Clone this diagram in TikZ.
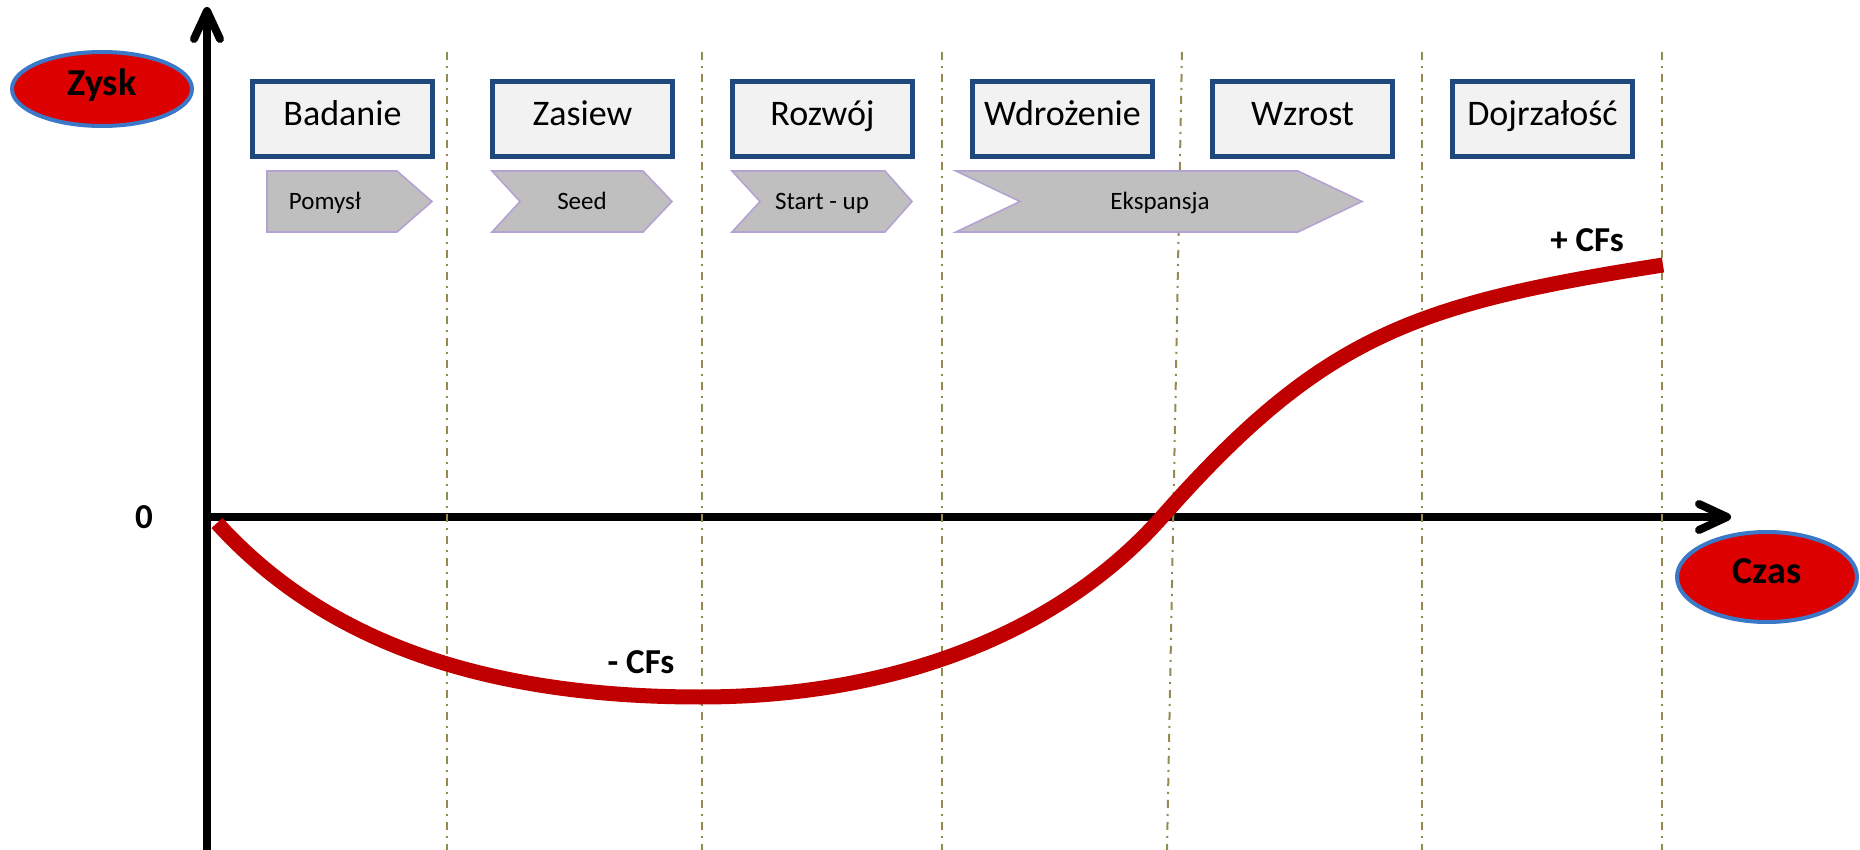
\documentclass[tikz,border=0pt]{standalone}
\usepackage{fontspec}
\setmainfont{Carlito}
\usetikzlibrary{arrows.meta,shapes.geometric}

\definecolor{ramka}{HTML}{1F497D}
\definecolor{tlo}{HTML}{F2F2F2}
\definecolor{szary}{HTML}{BFBFBF}
\definecolor{fiolet}{HTML}{B4A2D2}
\definecolor{oliwka}{HTML}{948A54}
\definecolor{czerwony}{HTML}{C00000}
\definecolor{jaskrawy}{HTML}{DD0000}
\definecolor{niebieski}{HTML}{3C78C8}

\tikzset{
  etap/.style={draw=ramka, line width=2.5pt, fill=tlo, minimum width=90pt,
    minimum height=37.5pt, inner sep=0pt, text height=0.64em, text depth=0pt,
    font=\fontsize{18}{20}\selectfont},
  faza/.style={draw=fiolet, line width=0.8pt, fill=szary},
  fazatekst/.style={anchor=base, inner sep=0pt, font=\fontsize{12.5}{14}\selectfont},
  owal/.style={ellipse, draw=niebieski, line width=2pt, fill=jaskrawy,
    minimum width=90pt, inner sep=0pt, text height=0.64em, text depth=0pt,
    font=\fontsize{19}{22}\bfseries},
  etykieta/.style={anchor=base, inner sep=0pt, font=\fontsize{17.5}{20}\bfseries},
  podzial/.style={draw=oliwka, line width=1pt, dash pattern=on 4pt off 3pt on 1pt off 3pt},
  os/.style={line width=4pt, -{Straight Barb[length=14pt, width=13pt, round]}},
  krzywa/.style={draw=czerwony, line width=7.5pt}
}

\begin{document}
\begin{tikzpicture}[x=0.5pt, y=-0.5pt]

\useasboundingbox (0,0) rectangle (1860,850);

% Axes
\coordinate (o) at (207,517);
\coordinate (ygora) at (207,7);
\coordinate (ydol) at (207,850);
\coordinate (xkoniec) at (1731,517);
\draw[os] (ydol) -- (ygora);
\draw[os] (o) -- (xkoniec);

% Lignes de separation des etapes
\draw[podzial] (447,52) -- (447,850);
\draw[podzial] (702,52) -- (702,850);
\draw[podzial] (942,52) -- (942,850);
\draw[podzial] (1182,52) -- (1167,850);
\draw[podzial] (1422,52) -- (1422,850);
\draw[podzial] (1662,52) -- (1662,850);

% Courbe des flux
\draw[krzywa] (217,523) .. controls (307,622) and (450,697) .. (700,697)
  .. controls (900,697) and (1062,630) .. (1162,517)
  .. controls (1322,336) and (1413,304) .. (1663,265);

% Etapes
\node[etap] (badanie) at (342.5,119) {Badanie};
\node[etap] (zasiew) at (582.5,119) {Zasiew};
\node[etap] (rozwoj) at (822.5,119) {Rozwój};
\node[etap] (wdrozenie) at (1062.5,119) {Wdrożenie};
\node[etap] (wzrost) at (1302.5,119) {Wzrost};
\node[etap] (dojrzalosc) at (1542.5,119) {Dojrzałość};

% Fleches des phases
\filldraw[faza] (267,171) -- (397,171) -- (432,201.5) -- (397,232) -- (267,232) -- cycle;
\filldraw[faza] (492,171) -- (643,171) -- (672,201.5) -- (643,232) -- (492,232) -- (520,201.5) -- cycle;
\filldraw[faza] (732,171) -- (885,171) -- (912,201.5) -- (885,232) -- (732,232) -- (760,201.5) -- cycle;
\filldraw[faza] (956,171) -- (1298,171) -- (1362,201.5) -- (1298,232) -- (956,232) -- (1020,201.5) -- cycle;
\node[fazatekst] (pomysl) at (325,210) {Pomysł};
\node[fazatekst] (seed) at (582,210) {Seed};
\node[fazatekst] (startup) at (822,210) {Start - up};
\node[fazatekst] (ekspansja) at (1160,210) {Ekspansja};

% Etiquettes
\node[owal, minimum height=37pt] (zysk) at (102,89) {Zysk};
\node[owal, minimum height=45pt] (czas) at (1767,577) {Czas};
\node[etykieta] (zero) at (144,529) {0};
\node[etykieta] (minus) at (641,673) {- CFs};
\node[etykieta] (plus) at (1587,252) {+ CFs};

\end{tikzpicture}
\end{document}
